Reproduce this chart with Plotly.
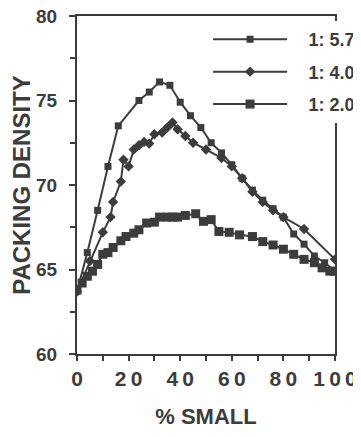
import plotly.graph_objects as go

# Data
x_57 = [0, 4, 8, 12, 16, 24, 28, 32, 36, 40, 44, 48, 52, 56, 60, 64, 68, 72, 76, 80, 84, 88, 92, 96, 100]
y_57 = [63.7, 66.0, 68.5, 71.1, 73.5, 75.0, 75.5, 76.1, 75.9, 74.9, 74.1, 73.4, 72.5, 71.9, 71.2, 70.4,
        69.7, 69.1, 68.6, 68.1, 67.1, 66.5, 65.8, 65.4, 64.9]

x_407 = [0, 5, 10, 13, 14, 17, 18, 20, 22, 24, 26, 28, 30, 33, 35, 37, 39, 42, 45, 50, 56, 60, 64, 68,
         72, 76, 80, 88, 100]
y_407 = [63.7, 65.5, 67.2, 68.1, 69.0, 70.2, 71.5, 71.1, 72.1, 72.35, 72.55, 72.45, 73.0, 73.1, 73.4,
         73.7, 73.3, 72.9, 72.5, 72.1, 71.6, 71.1, 70.4, 69.6, 69.0, 68.5, 68.1, 67.4, 65.6]

x_200 = [0, 2, 4, 6, 8, 10, 12, 14, 17, 19, 22, 24, 27, 30, 32, 35, 37, 39, 42, 46, 49, 52, 55, 59, 63,
         68, 72, 76, 80, 84, 88, 92, 95, 98, 100]
y_200 = [63.8, 64.2, 64.6, 64.9, 65.3, 65.9, 66.0, 66.3, 66.7, 66.95, 67.15, 67.35, 67.75, 67.8, 68.1,
         68.1, 68.1, 68.1, 68.2, 68.3, 67.85, 67.95, 67.25, 67.2, 67.05, 66.95, 66.65, 66.45, 66.2, 65.9,
         65.6, 65.4, 65.1, 64.9, 64.9]

series_names = ["1: 5.7", "1: 4.07", "1: 2.00"]
x_ticks = [0, 20, 40, 60, 80, 100]
x_tick_text = ["0", "2\u20090", "4\u20090", "6\u20090", "8\u20090", "1\u20090\u20090"]
y_ticks = [60, 65, 70, 75, 80]

INK = "#3c3c3c"
FONT = "Arial, Liberation Sans, sans-serif"
GAP = "\u2002\u2004\u200a"  # visual gap between legend line and its label

fig = go.Figure()
fig.add_trace(go.Scatter(x=x_57, y=y_57, name=GAP + series_names[0], mode="lines+markers",
                         line=dict(color=INK, width=2),
                         marker=dict(symbol="square", size=7, color=INK), legendgroup="a"))
fig.add_trace(go.Scatter(x=x_407, y=y_407, name=GAP + series_names[1], mode="lines+markers",
                         line=dict(color=INK, width=2),
                         marker=dict(symbol="diamond", size=8, color=INK), legendgroup="b"))
fig.add_trace(go.Scatter(x=x_200, y=y_200, name=GAP + series_names[2], mode="lines+markers",
                         line=dict(color=INK, width=2),
                         marker=dict(symbol="square", size=9, color=INK), legendgroup="c"))

# page body has an 8px default margin; size the figure so the page does not scroll
fig.update_layout(
    width=353, height=421,
    margin=dict(l=69, r=26, t=8, b=75, autoexpand=False),
    paper_bgcolor="white", plot_bgcolor="white",
    font=dict(family=FONT, color=INK),
    showlegend=True,
    legend=dict(x=0.508, y=0.985, xanchor="left", yanchor="top",
                bgcolor="white", borderwidth=0, tracegroupgap=6, itemwidth=74,
                font=dict(size=18, family=FONT, color=INK, weight="bold")),
    xaxis=dict(range=[0, 100], tickvals=x_ticks, ticktext=x_tick_text, automargin=False,
               ticks="outside", ticklen=5, tickwidth=2, tickcolor=INK,
               minor=dict(dtick=10, ticks="outside", ticklen=5, tickwidth=2, tickcolor=INK),
               showline=True, linecolor=INK, linewidth=2, mirror=True,
               showgrid=False, zeroline=False, ticklabeloverflow="allow",
               tickfont=dict(size=21, family=FONT, color=INK, weight="bold"),
               title=dict(text="% SMALL", standoff=26,
                          font=dict(size=22, family=FONT, color=INK, weight="bold"))),
    yaxis=dict(range=[60, 80], tickvals=y_ticks, automargin=False,
               ticks="outside", ticklen=6, tickwidth=2, tickcolor=INK,
               minor=dict(dtick=2.5, ticks="outside", ticklen=5, tickwidth=2, tickcolor=INK),
               showline=True, linecolor=INK, linewidth=2, mirror=True,
               showgrid=False, zeroline=False, ticklabelstandoff=8, ticklabeloverflow="allow",
               tickfont=dict(size=19, family=FONT, color=INK, weight="bold"),
               title=dict(text="PACKING DENSITY", standoff=18,
                          font=dict(size=24, family=FONT, color=INK, weight="bold"))),
)

fig.write_html("out.html")
